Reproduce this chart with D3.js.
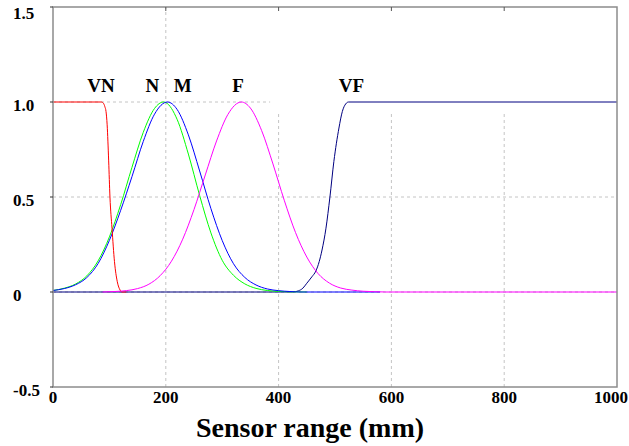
<!DOCTYPE html>
<html>
<head>
<meta charset="utf-8">
<script src="https://cdn.jsdelivr.net/npm/d3@7"></script>
<style>
  html, body { margin: 0; padding: 0; background: #fff; }
  svg { display: block; }
  text { font-family: "Liberation Serif", "Times New Roman", serif; font-weight: bold; fill: #000; }
</style>
</head>
<body>
<svg id="chart" width="629" height="446"></svg>
<script>
// Membership functions of the distance sensor (mm -> degree)
const vnX = [0, 86, 89, 92, 94, 96, 98.7, 101, 104.6, 109, 114, 119, 122, 130];
const vnY = [1, 1, 0.995, 0.975, 0.95, 0.88, 0.69, 0.5, 0.336, 0.16, 0.054, 0.01, 0, 0];

const nX = [0, 20, 40, 60, 80, 100, 120, 140, 160, 180, 196, 200, 220, 240, 260, 280, 300, 320, 340, 360, 380, 400, 420, 450];
const nY = [0.008, 0.02, 0.042, 0.085, 0.164, 0.29, 0.46, 0.656, 0.84, 0.966, 1, 0.997, 0.909, 0.726, 0.508, 0.311, 0.167, 0.088, 0.043, 0.019, 0.008, 0.003, 0.001, 0];

const mX = [0, 20, 40, 60, 80, 100, 120, 140, 160, 180, 203, 220, 240, 260, 280, 300, 320, 340, 360, 380, 400, 420, 440, 580];
const mY = [0.008, 0.018, 0.038, 0.076, 0.15, 0.272, 0.43, 0.607, 0.792, 0.936, 1, 0.961, 0.827, 0.637, 0.439, 0.271, 0.149, 0.077, 0.037, 0.016, 0.007, 0.0025, 0, 0];

const fX = [88, 110, 130, 150, 170, 190, 210, 230, 250, 270, 290, 310, 334, 350, 370, 390, 410, 430, 450, 470, 490, 510, 530, 550, 570, 590, 1000];
const fY = [0, 0.0026, 0.0073, 0.018, 0.041, 0.086, 0.162, 0.278, 0.434, 0.616, 0.795, 0.934, 1, 0.968, 0.849, 0.674, 0.483, 0.313, 0.184, 0.097, 0.047, 0.021, 0.01, 0.004, 0.0015, 0, 0];

const vfX = [0, 425, 435, 443, 450, 459, 466, 472, 477, 484, 491, 498, 507, 513, 519, 524, 1000];
const vfY = [0, 0, 0.006, 0.02, 0.046, 0.08, 0.11, 0.16, 0.221, 0.336, 0.5, 0.687, 0.863, 0.95, 0.99, 1, 1];

// Term names written above each function, at their x position (mm)
const termNames = ["VN", "N", "M", "F", "VF"];
const termAt = [85, 176, 230, 328, 529];

// Axis ticks
const xTicks = [0, 200, 400, 600, 800, 1000];
const yTicks = [-0.5, 0, 0.5, 1.0, 1.5];
const yTickLabels = ["-0.5", "0", "0.5", "1.0", "1.5"];
const xTitle = "Sensor range (mm)";

const svg = d3.select("#chart");
const W = 629, H = 446;
const plotL = 53, plotR = 617, plotT = 7, plotB = 387;

const x = d3.scaleLinear().domain([0, 1000]).range([plotL, plotR]);
const y = d3.scaleLinear().domain([-0.5, 1.5]).range([plotB, plotT]);

svg.append("rect").attr("width", W).attr("height", H).attr("fill", "#fff");

// Dashed grid
const grid = svg.append("g").attr("stroke", "#c4c4c4").attr("stroke-width", 1)
  .attr("stroke-dasharray", "3,3").attr("fill", "none");
grid.selectAll("line.v").data(xTicks.slice(1, -1)).join("line")
  .attr("class", "v")
  .attr("x1", d => x(d)).attr("x2", d => x(d))
  .attr("y1", y(-0.5)).attr("y2", y(1.5));
grid.selectAll("line.h").data([0, 0.5, 1.0]).join("line")
  .attr("class", "h")
  .attr("x1", x(0)).attr("x2", x(1000))
  .attr("y1", d => y(d)).attr("y2", d => y(d));

// Blank key region in the upper right of the plot
svg.append("rect")
  .attr("x", x(385)).attr("y", y(1.5))
  .attr("width", x(1000) - x(385)).attr("height", y(0.947) - y(1.5))
  .attr("fill", "#fff");

// Curves
const line = d3.line().x(d => x(d[0])).y(d => y(d[1])).curve(d3.curveMonotoneX);
const zip = (a, b) => a.map((v, i) => [v, b[i]]);
const series = [
  { pts: zip(vfX, vfY), color: "#000080" },
  { pts: zip(nX, nY), color: "#00ff00" },
  { pts: zip(mX, mY), color: "#0000ff" },
  { pts: zip(vnX, vnY), color: "#ff0000" },
  { pts: zip(fX, fY), color: "#ff00ff" }
];
svg.append("g").selectAll("path").data(series).join("path")
  .attr("d", d => line(d.pts))
  .attr("fill", "none")
  .attr("stroke", d => d.color)
  .attr("stroke-width", 1);

// Term labels
svg.append("g").selectAll("text").data(termNames).join("text")
  .attr("x", (d, i) => x(termAt[i]))
  .attr("y", y(1) - 10)
  .attr("text-anchor", "middle")
  .attr("font-size", 19)
  .text(d => d);

// Frame
svg.append("rect")
  .attr("x", plotL).attr("y", plotT)
  .attr("width", plotR - plotL).attr("height", plotB - plotT)
  .attr("fill", "none").attr("stroke", "#8c8c8c").attr("stroke-width", 1.5);

// Top inner ticks
svg.append("g").attr("stroke", "#555").selectAll("line").data(xTicks.slice(1, -1)).join("line")
  .attr("x1", d => x(d)).attr("x2", d => x(d))
  .attr("y1", plotT).attr("y2", plotT + 4);

// Left outer ticks
svg.append("g").attr("stroke", "#333").selectAll("line").data(yTicks).join("line")
  .attr("x1", plotL - 3).attr("x2", plotL)
  .attr("y1", d => y(d)).attr("y2", d => y(d));

// Tick labels
svg.append("g").selectAll("text").data(yTicks).join("text")
  .attr("x", 13)
  .attr("y", d => Math.max(y(d) + 9, 19))
  .attr("font-size", 17)
  .text((d, i) => yTickLabels[i]);

svg.append("g").selectAll("text").data(xTicks).join("text")
  .attr("x", d => d === 1000 ? W - 1 : x(d))
  .attr("y", 403)
  .attr("text-anchor", d => d === 1000 ? "end" : "middle")
  .attr("font-size", 17)
  .text(d => String(d));

// Axis title
svg.append("text")
  .attr("x", 310).attr("y", 437)
  .attr("text-anchor", "middle")
  .attr("font-size", 28)
  .text(xTitle);
</script>
</body>
</html>
